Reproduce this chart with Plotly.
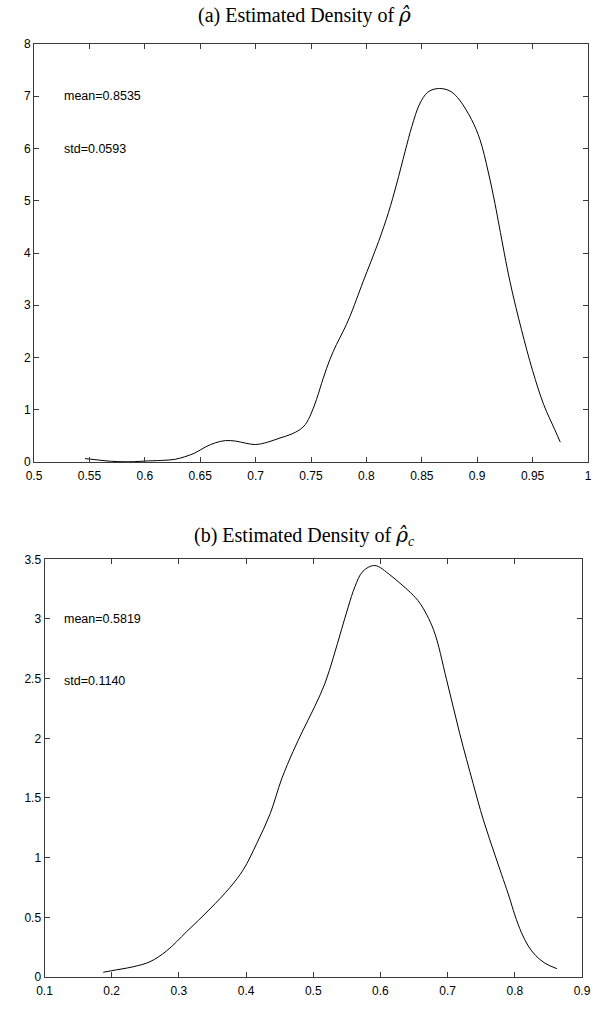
import plotly.graph_objects as go

# ---- data: panel (a) estimated density of rho-hat
rho_x = [0.546, 0.555, 0.565, 0.575, 0.590, 0.600, 0.615, 0.627, 0.636, 0.645,
         0.655, 0.664, 0.673, 0.682, 0.691, 0.700, 0.711, 0.722, 0.732, 0.740,
         0.745, 0.750, 0.755, 0.761, 0.767, 0.773, 0.779, 0.785, 0.797, 0.811,
         0.820, 0.827, 0.835, 0.841, 0.848, 0.855, 0.862, 0.870, 0.877, 0.884,
         0.895, 0.9025, 0.910, 0.916, 0.920, 0.9296, 0.940, 0.950, 0.960, 0.970,
         0.975]
rho_y = [0.065, 0.045, 0.022, 0.008, 0.006, 0.018, 0.030, 0.050, 0.100, 0.170,
         0.290, 0.370, 0.410, 0.400, 0.360, 0.335, 0.380, 0.460, 0.530, 0.620,
         0.720, 0.920, 1.200, 1.600, 1.960, 2.250, 2.500, 2.780, 3.450, 4.220,
         4.780, 5.300, 5.950, 6.420, 6.850, 7.070, 7.140, 7.140, 7.080, 6.930,
         6.550, 6.170, 5.550, 4.950, 4.500, 3.450, 2.530, 1.750, 1.100, 0.620,
         0.380]

# ---- data: panel (b) estimated density of rho_c-hat
rhoc_x = [0.1875, 0.200, 0.232, 0.257, 0.282, 0.3116, 0.3463, 0.376, 0.396,
          0.416, 0.436, 0.453, 0.470, 0.485, 0.5025, 0.5174, 0.530, 0.542, 0.552,
          0.562, 0.574, 0.5918, 0.614, 0.629, 0.645, 0.659, 0.679, 0.6985, 0.718,
          0.738, 0.753, 0.773, 0.7917, 0.800, 0.810, 0.820, 0.831, 0.845, 0.8626]
rhoc_y = [0.040, 0.053, 0.086, 0.128, 0.220, 0.380, 0.570, 0.750, 0.900,
          1.120, 1.370, 1.660, 1.890, 2.070, 2.270, 2.460, 2.680, 2.910, 3.100,
          3.270, 3.400, 3.448, 3.370, 3.300, 3.220, 3.130, 2.910, 2.490, 2.040,
          1.620, 1.320, 0.980, 0.670, 0.520, 0.370, 0.260, 0.180, 0.115, 0.070]

# ---- tick labels
a_xticks = [0.5, 0.55, 0.6, 0.65, 0.7, 0.75, 0.8, 0.85, 0.9, 0.95, 1.0]
a_xtext = ["0.5", "0.55", "0.6", "0.65", "0.7", "0.75", "0.8", "0.85", "0.9", "0.95", "1"]
a_yticks = [0, 1, 2, 3, 4, 5, 6, 7, 8]
a_ytext = ["0", "1", "2", "3", "4", "5", "6", "7", "8"]
b_xticks = [0.1, 0.2, 0.3, 0.4, 0.5, 0.6, 0.7, 0.8, 0.9]
b_xtext = ["0.1", "0.2", "0.3", "0.4", "0.5", "0.6", "0.7", "0.8", "0.9"]
b_yticks = [0, 0.5, 1, 1.5, 2, 2.5, 3, 3.5]
b_ytext = ["0", "0.5", "1", "1.5", "2", "2.5", "3", "3.5"]

# ---- text
hat = "<span style=\"font-family:'DejaVu Serif'\"><i>ρ̂</i></span>"
title_a = "(a) Estimated Density of " + hat
title_b = "(b) Estimated Density of " + hat + "<sub><i>c</i></sub>"
stats_a = ["mean=0.8535", "std=0.0593"]
stats_b = ["mean=0.5819", "std=0.1140"]

W, H = 609, 1009
fig = go.Figure()
fig.add_trace(go.Scatter(x=rho_x, y=rho_y, mode="lines",
                         line=dict(color="black", width=1, shape="spline", smoothing=1.0),
                         xaxis="x", yaxis="y", showlegend=False, hoverinfo="skip"))
fig.add_trace(go.Scatter(x=rhoc_x, y=rhoc_y, mode="lines",
                         line=dict(color="black", width=1, shape="spline", smoothing=1.0),
                         xaxis="x2", yaxis="y2", showlegend=False, hoverinfo="skip"))

tickfont = dict(family="Liberation Sans, Arial", size=12, color="black")
notefont = dict(family="Liberation Sans, Arial", size=12.5, color="black")
common = dict(showline=True, linecolor="#3a3a3a", linewidth=1, mirror="allticks", ticks="inside",
              ticklen=5, tickcolor="#3a3a3a", showgrid=False, zeroline=False, tickfont=tickfont,
              automargin=False)

def px_x(p):
    return p / W

def px_y(p):
    return 1 - p / H

fig.update_layout(
    width=W, height=H, margin=dict(l=0, r=0, t=0, b=0),
    paper_bgcolor="white", plot_bgcolor="white",
    xaxis=dict(domain=[px_x(34), px_x(588)], range=[0.5, 1.0], tickvals=a_xticks, ticktext=a_xtext,
               anchor="y", ticklabelstandoff=3, **common),
    yaxis=dict(domain=[px_y(462), px_y(44)], range=[0, 8], tickvals=a_yticks, ticktext=a_ytext,
               anchor="x", **common),
    xaxis2=dict(domain=[px_x(44.5), px_x(582)], range=[0.1, 0.9], tickvals=b_xticks, ticktext=b_xtext,
                anchor="y2", ticklabelstandoff=3, **common),
    yaxis2=dict(domain=[px_y(977), px_y(559.3)], range=[0, 3.5], tickvals=b_yticks, ticktext=b_ytext,
                anchor="x2", **common),
)

titlefont = dict(family="Liberation Serif, Times New Roman", size=20, color="black")
annots = [
    dict(text=title_a, x=0.5, y=px_y(15), xref="paper", yref="paper", showarrow=False,
         font=titlefont, xanchor="center", yanchor="middle"),
    dict(text=title_b, x=0.5, y=px_y(536), xref="paper", yref="paper", showarrow=False,
         font=titlefont, xanchor="center", yanchor="middle"),
    dict(text=stats_a[0], x=0.5255, y=7, xref="x", yref="y", showarrow=False, font=notefont,
         xanchor="left", yanchor="middle"),
    dict(text=stats_a[1], x=0.5255, y=6, xref="x", yref="y", showarrow=False, font=notefont,
         xanchor="left", yanchor="middle"),
    dict(text=stats_b[0], x=0.1256, y=3.0, xref="x2", yref="y2", showarrow=False, font=notefont,
         xanchor="left", yanchor="middle"),
    dict(text=stats_b[1], x=0.1256, y=2.48, xref="x2", yref="y2", showarrow=False, font=notefont,
         xanchor="left", yanchor="middle"),
]
fig.update_layout(annotations=annots)

fig.write_html("out.html", config={"displayModeBar": False},
               post_script="document.body.style.margin='0px';")
